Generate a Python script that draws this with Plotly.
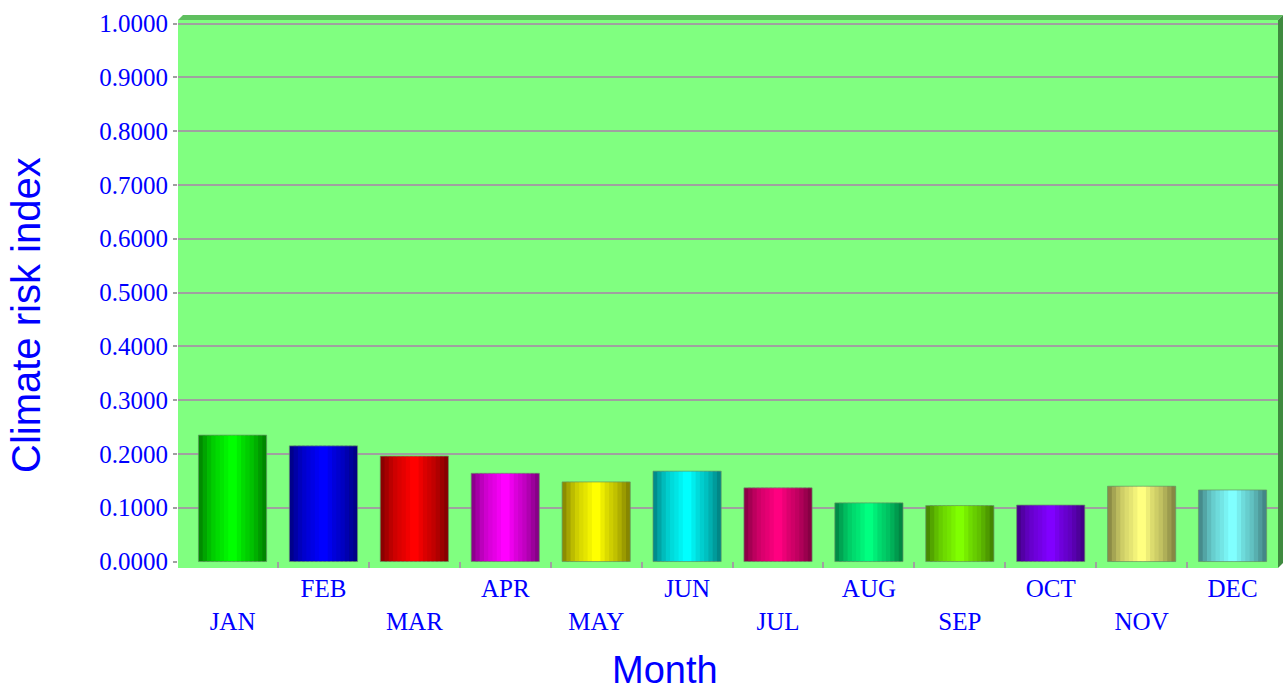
import plotly.graph_objects as go

# ---------------- data ----------------
months = ["JAN", "FEB", "MAR", "APR", "MAY", "JUN",
          "JUL", "AUG", "SEP", "OCT", "NOV", "DEC"]
risk_index = [0.235, 0.215, 0.196, 0.164, 0.148, 0.168,
              0.137, 0.109, 0.104, 0.105, 0.140, 0.133]
y_tick_values = [0.0, 0.1, 0.2, 0.3, 0.4, 0.5, 0.6, 0.7, 0.8, 0.9, 1.0]
y_tick_labels = ["0.0000", "0.1000", "0.2000", "0.3000", "0.4000", "0.5000",
                 "0.6000", "0.7000", "0.8000", "0.9000", "1.0000"]
grid_values = [0.1, 0.2, 0.3, 0.4, 0.5, 0.6, 0.7, 0.8, 0.9, 1.0]
# staggered month labels: even index on the lower row
month_tick_labels = [m if i % 2 else "<br>" + m for i, m in enumerate(months)]
x_title = "Month"
y_title = "Climate risk index"

# ---------------- style ----------------
bar_colors = ["#00FF00", "#0000FF", "#FF0000", "#FF00FF", "#FFFF00", "#00FFFF",
              "#FF0080", "#00FF80", "#80FF00", "#8000FF", "#FFFF80", "#80FFFF"]
# brightness across a bar (left -> right) for the cylinder look
shade_profile = [0.55, 0.65, 0.74, 0.81, 0.86, 0.90, 0.95, 1.0,
                 1.0, 0.93, 0.86, 0.81, 0.76, 0.69, 0.61, 0.53]
BAR_WIDTH = 0.75
BLUE = "#0000FF"
GRID = "#a0a0a0"
X_RANGE = [-0.6, 11.5]
Y_RANGE = [-0.012, 1.0065]

W, H = 1284, 691
ML, MR, MT, MB = 178, 6, 20, 123
plot_w = W - ML - MR
plot_h = H - MT - MB

# separators between month categories
boundaries = [i + 0.5 for i in range(len(months) - 1)]


def shade(hex_color, f):
    h = hex_color.lstrip("#")
    r, g, b = (int(h[i:i + 2], 16) for i in (0, 2, 4))
    return "rgb({},{},{})".format(int(r * f), int(g * f), int(b * f))


def px_to_paper_x(px):
    return (px - ML) / plot_w


def px_to_paper_y(py):
    return (H - MB - py) / plot_h


fig = go.Figure()

n = len(shade_profile)
w = BAR_WIDTH / n
for i, f in enumerate(shade_profile):
    fig.add_trace(go.Bar(
        x=months, y=risk_index,
        width=w * (1.6 if i < n - 1 else 1.0),
        offset=-BAR_WIDTH / 2 + i * w,
        marker=dict(color=[shade(c, f) for c in bar_colors], line=dict(width=0)),
        showlegend=False,
        hoverinfo="skip" if i else "x+y",
    ))

# thin outline
fig.add_trace(go.Bar(
    x=months, y=risk_index, width=BAR_WIDTH, offset=-BAR_WIDTH / 2,
    marker=dict(color="rgba(0,0,0,0)", line=dict(color="rgba(100,150,100,0.7)", width=1)),
    showlegend=False, hoverinfo="skip",
))

# an invisible trace to activate the helper axes (separator ticks + grid)
fig.add_trace(go.Scatter(x=[0], y=[0], xaxis="x2", yaxis="y2", mode="markers",
                         marker=dict(opacity=0), showlegend=False, hoverinfo="skip"))

dx = 5 / plot_w
dy = 5 / plot_h

fig.update_layout(
    width=W, height=H,
    margin=dict(l=ML, r=MR, t=MT, b=MB),
    paper_bgcolor="white",
    plot_bgcolor="#80FF80",
    barmode="overlay",
    showlegend=False,
    xaxis=dict(
        type="category",
        range=X_RANGE,
        tickmode="array", tickvals=months, ticktext=month_tick_labels,
        ticks="", ticklabelstandoff=3,
        showgrid=False, zeroline=False, showline=False,
        tickfont=dict(family="Liberation Serif", size=25, color=BLUE),
    ),
    xaxis2=dict(
        overlaying="x", anchor="y", side="bottom", range=X_RANGE,
        tickmode="array", tickvals=boundaries, showticklabels=False,
        ticks="inside", ticklen=6, tickwidth=1.5, tickcolor=GRID,
        showgrid=False, zeroline=False, showline=False,
    ),
    yaxis=dict(
        range=Y_RANGE,
        tickmode="array", tickvals=y_tick_values, ticktext=y_tick_labels,
        ticks="outside", ticklen=4, tickwidth=1.5, tickcolor=GRID,
        showgrid=False, zeroline=False, showline=False,
        tickfont=dict(family="Liberation Serif", size=25, color=BLUE),
    ),
    yaxis2=dict(
        overlaying="y", anchor="x", range=Y_RANGE,
        tickmode="array", tickvals=grid_values,
        showticklabels=False, ticks="",
        showgrid=True, gridcolor=GRID, gridwidth=2, zeroline=False,
    ),
    shapes=[
        dict(type="path", xref="paper", yref="paper",
             path=f"M 0 1 L {dx} {1 + dy} L {1 + dx} {1 + dy} L 1 1 Z",
             fillcolor="#5fbf5f", line=dict(width=0)),
        dict(type="path", xref="paper", yref="paper",
             path=f"M 1 0 L 1 1 L {1 + dx} {1 + dy} L {1 + dx} {dy} Z",
             fillcolor="#3f8a3f", line=dict(width=0)),
    ],
    annotations=[
        dict(text=x_title, xref="paper", yref="paper",
             x=px_to_paper_x(665), y=px_to_paper_y(670),
             xanchor="center", yanchor="middle", showarrow=False,
             font=dict(family="Liberation Sans", size=38, color=BLUE)),
        dict(text=y_title, xref="paper", yref="paper", textangle=-90,
             x=px_to_paper_x(26), y=px_to_paper_y(315),
             xanchor="center", yanchor="middle", showarrow=False,
             font=dict(family="Liberation Sans", size=40, color=BLUE)),
    ],
)

fig.write_html("out.html", config={"displayModeBar": False},
               post_script="document.body.style.margin='0';")
